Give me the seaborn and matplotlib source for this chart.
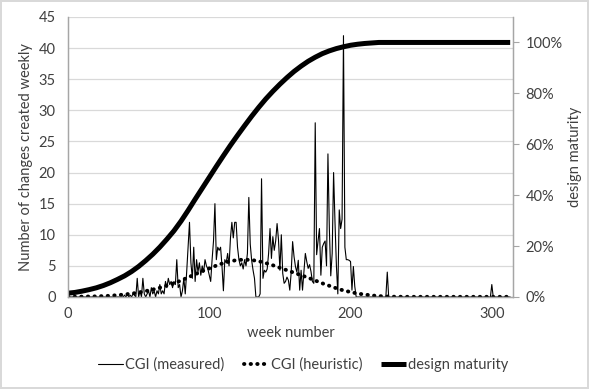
import matplotlib
matplotlib.use('Agg')
import matplotlib.pyplot as plt
import seaborn as sns
import pandas as pd
from matplotlib.ticker import PercentFormatter, MultipleLocator

# CGI (measured): changes created per week, weeks 0..313
measured = [
    0, 0, 0, 0, 0, 0, 0, 0, 0, 0, 0, 0, 0, 0, 0, 0, 0, 0, 0, 0,
    0, 0, 0, 0, 0, 0, 0, 0, 0, 0, 0, 0, 0, 0, 0, 0, 0, 0, 0, 0,
    0.3, 0, 0.5, 0, 0.3, 0, 0.5, 0.3, 0, 3, 0, 1, 0, 3, 0.5, 0, 0.5, 1, 0, 1.5,
    0.5, 1, 0, 1, 0.5, 2, 0.5, 1, 0.5, 2.5, 1.5, 3, 2, 2.5, 1.5, 2.5, 2, 6, 1.5, 2,
    0, 1, 3, 0.5, 4, 8, 12, 5.5, 3, 8, 2.5, 6, 4, 5.5, 3.5, 5, 4, 6, 5, 4.5,
    3.5, 2.5, 6, 9, 15, 6, 8, 7.5, 8, 5, 1, 6, 5.5, 7, 5, 9.5, 12, 9.5, 12, 12,
    8, 6, 5, 5.5, 4.5, 6, 5, 7, 16, 8.5, 5.9, 4.3, 3, 0, 0, 0, 0.5, 19, 3, 4.3,
    4, 4.5, 7, 11, 6.2, 9.7, 7.5, 9, 11.8, 9.2, 4.3, 10, 3.8, 2.2, 2.5, 3.2, 2.7, 1.1, 4, 8.9,
    6.5, 4.9, 4, 5.9, 1.1, 4.3, 1.1, 4, 7, 5.7, 4.6, 5.2, 4.1, 2.5, 2.2, 28, 6.8, 9, 11, 3.5,
    8, 8.6, 9, 5, 23, 11, 3.4, 7, 20, 12, 5, 0.5, 14, 11, 12.5, 42, 8, 6, 6, 5.9,
    5.7, 1.1, 4.9, 1.7, 0, 0, 0, 0, 0, 0, 0, 0, 0, 0, 0, 0, 0, 0, 0, 0,
    0, 0, 0, 0, 0, 0, 4, 0, 0, 0, 0, 0, 0, 0, 0, 0, 0, 0, 0, 0,
    0, 0, 0, 0, 0, 0, 0, 0, 0, 0, 0, 0, 0, 0, 0, 0, 0, 0, 0, 0,
    0, 0, 0, 0, 0, 0, 0, 0, 0, 0, 0, 0, 0, 0, 0, 0, 0, 0, 0, 0,
    0, 0, 0, 0, 0, 0, 0, 0, 0, 0, 0, 0, 0, 0, 0, 0, 0, 0, 0, 0,
    2, 0, 0, 0, 0, 0, 0, 0, 0, 0, 0, 0, 0, 0,
]
weeks = list(range(len(measured)))

# CGI (heuristic), read every 5 weeks
heur_weeks = [0, 5, 10, 15, 20, 25, 30, 35, 40, 45, 50, 55, 60, 65, 70, 75, 80, 85, 90, 95,
              100, 105, 110, 115, 120, 125, 130, 135, 140, 145, 150, 155, 160, 165, 170, 175,
              180, 185, 190, 195, 200, 205, 210, 215, 220, 225, 230, 240, 250, 260, 270, 280,
              290, 300, 313]
heuristic = [0.05, 0.05, 0.06, 0.08, 0.1, 0.15, 0.2, 0.3, 0.4, 0.55, 0.7, 0.95, 1.2, 1.5, 1.85,
             2.2, 2.65, 3.15, 3.65, 4.15, 4.6, 5.05, 5.45, 5.75, 5.95, 6.0, 5.95, 5.75, 5.45,
             5.1, 4.7, 4.3, 3.9, 3.5, 3.1, 2.65, 2.2, 1.8, 1.4, 1.05, 0.8, 0.55, 0.4, 0.25,
             0.15, 0.08, 0.05, 0.03, 0.03, 0.03, 0.03, 0.03, 0.03, 0.03, 0.03]

# design maturity (%), read every 5 weeks
mat_weeks = [0, 5, 10, 15, 20, 25, 30, 35, 40, 45, 50, 55, 60, 65, 70, 75, 80, 85, 90, 95,
             100, 105, 110, 115, 120, 125, 130, 135, 140, 145, 150, 155, 160, 165, 170, 175,
             180, 185, 190, 195, 200, 205, 210, 215, 220, 240, 260, 280, 300, 313]
maturity = [1.5, 1.8, 2.3, 2.9, 3.6, 4.5, 5.6, 6.9, 8.3, 10.0, 12.0, 14.3, 16.8, 19.6, 22.7,
            26.0, 29.8, 34.0, 38.4, 42.7, 47.0, 51.3, 55.5, 59.6, 63.5, 67.3, 71.0, 74.5,
            77.8, 80.8, 83.6, 86.2, 88.6, 90.7, 92.6, 94.2, 95.6, 96.7, 97.6, 98.3, 98.9,
            99.3, 99.6, 99.8, 100, 100, 100, 100, 100, 100]

df_meas = pd.DataFrame({'week': weeks, 'cgi': measured})
df_heur = pd.DataFrame({'week': heur_weeks, 'cgi': heuristic})
df_mat = pd.DataFrame({'week': mat_weeks, 'maturity': [m / 100 for m in maturity]})

sns.set_style('white')
plt.rcParams['font.family'] = ['Lato', 'DejaVu Sans']
text_col = '#404040'
axis_col = '#a6a6a6'
fs = 10.5

fig = plt.figure(figsize=(5.89, 3.89), dpi=100, edgecolor='#d9d9d9', linewidth=1.5)
ax = fig.add_axes([68 / 589, 1 - 297 / 389, (513 - 68) / 589, (297 - 17) / 389])
ax2 = ax.twinx()

sns.lineplot(data=df_meas, x='week', y='cgi', ax=ax, color='black', linewidth=0.8,
             label='CGI (measured)')
sns.lineplot(data=df_heur, x='week', y='cgi', ax=ax, color='black', linewidth=2.8,
             linestyle=(0, (0.1, 1.6)), dash_capstyle='round', label='CGI (heuristic)')
sns.lineplot(data=df_mat, x='week', y='maturity', ax=ax2, color='black', linewidth=3.6,
             label='design maturity', solid_capstyle='butt')

for a in (ax, ax2):
    if a.get_legend() is not None:
        a.get_legend().remove()

ax.set_xlim(0, 315)
ax.set_ylim(0, 45)
ax2.set_ylim(0, 1.1)
ax.xaxis.set_major_locator(MultipleLocator(100))
ax.yaxis.set_major_locator(MultipleLocator(5))
ax2.set_yticks([0, 0.2, 0.4, 0.6, 0.8, 1.0])
ax2.yaxis.set_major_formatter(PercentFormatter(1.0, decimals=0))

ax.grid(axis='y', color='#d9d9d9', linewidth=0.9)
ax.set_axisbelow(True)

for a in (ax, ax2):
    a.spines['top'].set_visible(False)
    for s in ('left', 'right', 'bottom'):
        a.spines[s].set_color(axis_col)
        a.spines[s].set_linewidth(0.9)

ax.tick_params(axis='x', direction='out', length=4, color=axis_col, labelsize=fs,
               labelcolor=text_col, pad=3)
ax.tick_params(axis='y', length=0, labelsize=fs, labelcolor=text_col, pad=9)
ax2.tick_params(axis='y', direction='out', length=4, color=axis_col, labelsize=fs,
                labelcolor=text_col, pad=5)

ax.set_xlabel('week number', fontsize=fs, color=text_col, labelpad=4)
ax.set_ylabel('Number of changes created weekly', fontsize=fs, color=text_col, labelpad=4)
ax2.set_ylabel('design maturity', fontsize=fs, color=text_col, labelpad=4)

h1, l1 = ax.get_legend_handles_labels()
h2, l2 = ax2.get_legend_handles_labels()
fig.legend(h1 + h2, l1 + l2, loc='center', bbox_to_anchor=(0.515, 1 - 365 / 389), ncol=3,
           frameon=False, fontsize=fs, labelcolor=text_col, handlelength=1.7,
           handletextpad=0.15, columnspacing=1.3)

fig.savefig('out.png', dpi=100, edgecolor=fig.get_edgecolor())
